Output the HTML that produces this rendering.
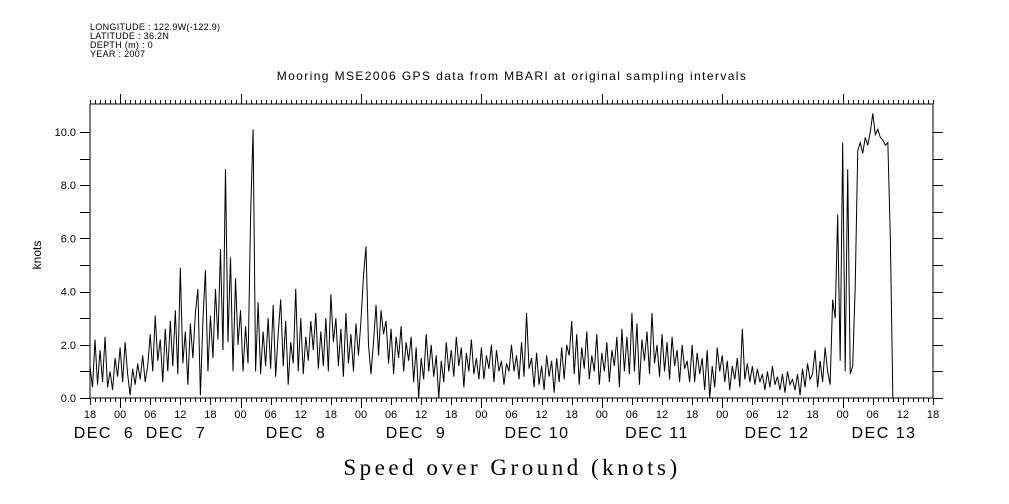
<!DOCTYPE html>
<html><head><meta charset="utf-8"><style>
html,body{margin:0;padding:0;background:#fff;}
svg{display:block;font-family:"Liberation Sans",sans-serif;}
</style></head><body>
<svg id="chart" width="1009" height="504" viewBox="0 0 1009 504">
<g font-size="9" fill="#000" letter-spacing="0.3">
<text x="90" y="30">LONGITUDE : 122.9W(-122.9)</text>
<text x="90" y="39">LATITUDE : 36.2N</text>
<text x="90" y="48">DEPTH (m) : 0</text>
<text x="90" y="57">YEAR : 2007</text>
</g>
<text x="512" y="80" font-size="12" letter-spacing="1.4" text-anchor="middle">Mooring MSE2006 GPS data from MBARI at original sampling intervals</text>
<text x="0" y="0" font-size="12" text-anchor="middle" transform="translate(41,255) rotate(-90)">knots</text>
<text x="512" y="475" font-size="23" letter-spacing="3.5" text-anchor="middle" font-family="Liberation Serif, serif">Speed over Ground (knots)</text>
<g id="axes"></g>
<path id="series" fill="none" stroke="#000" stroke-width="1"></path>
</svg>
<script>
const hourStep = 0.5;
const yTicks = [0,2,4,6,8,10];
const hourLabels = ["18","00","06","12","18","00","06","12","18","00","06","12","18","00","06","12","18","00","06","12","18","00","06","12","18","00","06","12","18"];
const dayLabels = ["DEC  6","DEC  7","DEC  8","DEC  9","DEC 10","DEC 11","DEC 12","DEC 13"];
const dayLabelX = [104,176,296,416,537,657,777,884];
const speed = [
1.2,0.4,2.2,0.5,1.8,0.6,2.3,0.4,1.0,0.3,1.5,0.8,
1.9,0.6,2.1,0.9,0.1,1.1,0.5,1.3,0.7,1.6,0.6,1.2,
2.4,1.0,3.1,1.4,2.2,0.6,2.6,1.0,2.9,1.2,3.3,0.9,
4.9,1.3,2.5,0.5,2.8,1.5,3.2,4.1,0.1,2.9,4.8,1.0,
3.1,1.5,4.1,2.2,5.6,1.8,8.6,2.1,5.3,1.0,4.5,2.0,
3.3,1.0,2.7,1.3,6.8,10.1,1.0,3.6,0.9,2.5,1.2,3.0,
1.1,3.5,0.8,2.4,3.7,1.2,2.9,0.5,2.1,1.3,4.1,1.0,
3.0,0.9,2.3,1.4,2.9,1.8,3.2,1.1,2.5,1.2,3.0,1.0,
3.9,2.1,3.0,1.2,2.6,0.8,3.2,1.3,2.4,1.0,2.8,1.6,
2.9,4.6,5.7,2.0,0.9,2.1,3.5,1.6,3.3,2.4,2.9,1.3,
2.6,0.9,2.3,1.5,2.7,1.0,2.1,1.4,2.3,0.6,1.9,0.0,
1.5,0.7,2.4,1.0,2.0,0.8,1.6,0.0,1.4,0.6,2.1,1.0,
1.8,0.8,2.3,1.2,1.9,0.4,1.7,1.0,2.2,0.9,1.5,0.7,
1.9,0.7,1.6,1.1,2.0,0.6,1.8,1.0,1.4,0.5,1.3,1.0,
2.0,1.0,1.6,0.7,2.1,0.8,3.2,1.1,1.5,0.4,1.7,0.5,
1.2,0.3,1.6,0.8,1.4,0.2,1.5,0.6,1.9,0.7,2.0,1.6,
2.9,0.9,2.4,0.5,1.9,1.1,2.5,0.7,1.6,1.0,2.4,0.5,
1.7,1.0,2.1,0.6,1.8,1.2,2.3,0.4,2.6,1.0,2.3,0.9,
3.2,1.0,2.8,0.5,2.2,1.4,2.5,0.9,3.2,1.3,2.0,0.8,
2.4,1.0,2.1,0.7,2.3,1.2,1.8,0.6,2.0,1.1,1.4,0.6,
2.0,0.6,1.7,0.9,1.5,0.3,1.8,0.0,1.2,0.4,1.9,1.0,
1.6,0.6,1.4,0.3,1.2,0.7,1.5,0.4,2.6,0.7,1.3,0.6,
1.2,0.5,1.1,0.6,0.9,0.3,1.0,0.4,1.2,0.5,0.8,0.3,
0.9,0.2,1.0,0.5,0.7,0.3,0.9,0.1,1.1,0.4,1.3,0.7,
0.9,1.8,0.4,1.4,0.6,1.9,1.0,0.5,3.7,3.0,6.9,1.4,
9.6,1.0,8.6,0.9,1.2,4.2,9.3,9.6,9.2,9.8,9.5,10.0,
10.7,9.9,10.1,9.8,9.7,9.5,9.6,6.0,0.0
];
const NS="http://www.w3.org/2000/svg";
const L=90,R=933,T=104,B=398,HOURS=168;
function xs(h){return L+h*(R-L)/HOURS;}
function ys(v){return B-v*(B-132)/10;}
const ax=document.getElementById('axes');
function line(x1,y1,x2,y2,name){
  const l=document.createElementNS(NS,'line');
  l.setAttribute('x1',x1);l.setAttribute('y1',y1);l.setAttribute('x2',x2);l.setAttribute('y2',y2);
  l.setAttribute('stroke','#000');l.setAttribute('stroke-width','1');
  
  
  ax.appendChild(l);return l;
}
function text(x,y,s,size,anchor,name){
  const t=document.createElementNS(NS,'text');
  t.setAttribute('x',x);t.setAttribute('y',y);t.setAttribute('font-size',size);t.setAttribute('text-anchor',anchor);
  t.textContent=s;
  
  
  ax.appendChild(t);return t;
}
line(L,T,R,T,'top-axis');line(L,B,R,B,'bottom-axis');line(L,T,L,B,'left-axis');line(R,T,R,B,'right-axis');
for(let h=0;h<=HOURS;h++){
  const x=Math.round(xs(h))+0.5;
  const major=((h+18)%24===0);
  const mid=(h%6===0);
  line(x,T,x,T-(major?10:4),'top-tick');
  line(x,B,x,B+(major?10:(mid?7:4)),'bottom-tick');
}
for(let v=0;v<=10;v++){
  const y=Math.round(ys(v))+0.5;
  line(L-10,y,L,y,'left-tick');
  line(R,y,R+10,y,'right-tick');
}
yTicks.forEach(v=>{text(L-14,ys(v)+4,v.toFixed(1),11,'end','y-tick-label');});
hourLabels.forEach((s,i)=>{text(xs(i*6),418,s,11,'middle','x-hour-label');});
dayLabels.forEach((s,i)=>{
  const t=text(dayLabelX[i],438,s,16,'middle','x-day-label');
  t.setAttribute('letter-spacing','1.5');
  t.setAttribute('xml:space','preserve');t.style.whiteSpace='pre';
});
let d='';
speed.forEach((v,i)=>{d+=(i?'L':'M')+xs(i*hourStep).toFixed(2)+' '+ys(v).toFixed(2)+' ';});
document.getElementById('series').setAttribute('d',d);
</script>
</body></html>
